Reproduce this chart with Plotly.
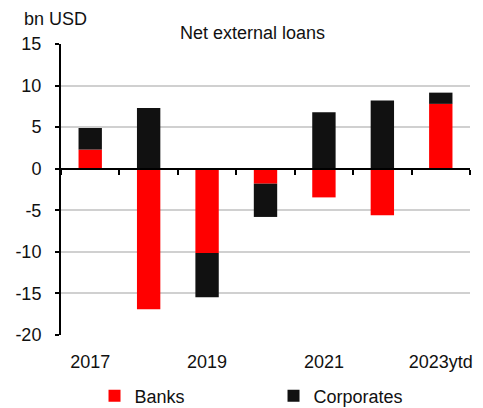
import plotly.graph_objects as go

# Net external loans, bn USD
years = ["2017", "2018", "2019", "2020", "2021", "2022", "2023ytd"]
banks = [2.3, -16.9, -10.15, -1.8, -3.45, -5.6, 7.8]
corporates = [2.6, 7.3, -5.3, -4.0, 6.8, 8.2, 1.35]
shown_years = ["2017", "2019", "2021", "2023ytd"]
y_ticks = [-20, -15, -10, -5, 0, 5, 10, 15]
y_min, y_max = y_ticks[0], y_ticks[-1]

FONT = "Liberation Sans, Arial, sans-serif"

fig = go.Figure()
fig.add_trace(go.Bar(name="Banks", x=years, y=banks,
                     marker=dict(color="#FF0000", line=dict(width=0))))
fig.add_trace(go.Bar(name="Corporates", x=years, y=corporates,
                     marker=dict(color="#111111", line=dict(width=0))))

# axis running along zero with ticks between categories
n = len(years)
fig.add_trace(go.Scatter(x=[], y=[], xaxis="x2", showlegend=False,
                         hoverinfo="skip"))

fig.update_layout(
    width=483, height=408,
    margin=dict(l=61, r=13, t=44, b=73, autoexpand=False),
    paper_bgcolor="white", plot_bgcolor="white",
    barmode="relative", bargap=0.6,
    font=dict(family=FONT, size=18, color="#111111"),
    xaxis=dict(type="category", categoryorder="array", categoryarray=years,
               range=[-0.5, n - 0.5], automargin=False,
               tickmode="array", tickvals=shown_years, ticktext=shown_years,
               showline=False, ticks="", showgrid=False, zeroline=False,
               ticklabelstandoff=14,
               tickfont=dict(size=18, family=FONT, color="#111111")),
    xaxis2=dict(overlaying="x", anchor="free",
                position=(0 - y_min) / (y_max - y_min),
                side="bottom", range=[-0.5, n - 0.5], automargin=False,
                tickmode="array",
                tickvals=[i + 0.5 for i in range(-1, n)],
                showticklabels=False, ticks="outside", ticklen=5,
                tickwidth=1.5, tickcolor="#000000",
                showline=True, linecolor="#000000", linewidth=2,
                showgrid=False, zeroline=False),
    yaxis=dict(range=[y_min, y_max], automargin=False,
               tickmode="array", tickvals=y_ticks,
               ticktext=[str(v) for v in y_ticks],
               showline=True, linecolor="#000000", linewidth=2,
               ticks="outside", ticklen=4, tickwidth=1.5, tickcolor="#000000",
               showgrid=True, gridcolor="#d0d0d0", gridwidth=1.5,
               zeroline=False, ticklabelstandoff=10,
               tickfont=dict(size=18, family=FONT, color="#111111")),
    legend=dict(orientation="h", x=0.5196, xanchor="center",
                yref="container", y=0.0294, yanchor="middle",
                entrywidth=134, entrywidthmode="pixels",
                font=dict(size=18, family=FONT, color="#111111"),
                itemwidth=30, traceorder="normal"),
    annotations=[
        dict(text="bn USD", xref="paper", yref="paper", x=-0.095, y=1.0876,
             xanchor="left", yanchor="middle", showarrow=False,
             font=dict(size=18, family=FONT, color="#111111")),
        dict(text="Net external loans", xref="paper", yref="paper",
             x=0.469, y=1.038, xanchor="center", yanchor="middle",
             showarrow=False,
             font=dict(size=18, family=FONT, color="#111111")),
    ],
)

fig.write_html("out.html")
